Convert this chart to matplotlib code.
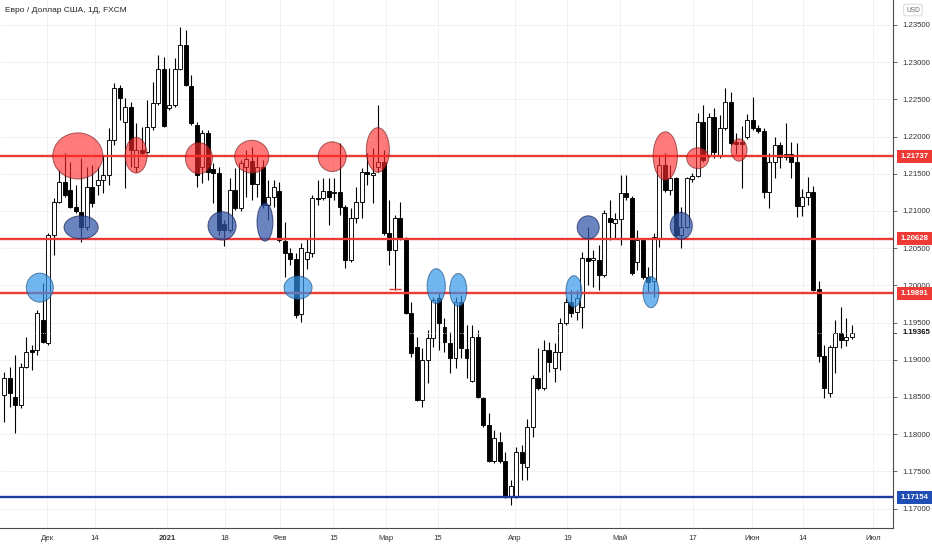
import matplotlib
matplotlib.use("Agg")
import matplotlib.pyplot as plt
import matplotlib.transforms as mtrans
from matplotlib.patches import Ellipse, Rectangle
import numpy as np

plt.rcParams['font.family'] = ['Liberation Sans', 'DejaVu Sans']

# ---------------- data (EUR/USD daily) ----------------
opens = [1.1853,1.1875,1.1850,1.1839,1.1890,1.1913,1.1913,1.1953,1.1923,1.2068,
         1.2112,1.2139,1.2128,1.2105,1.2099,1.2078,1.2132,1.2135,1.2142,1.2148,
         1.2195,1.2265,1.2220,1.2240,1.2159,1.2182,1.2179,1.2213,1.2245,1.2291,
         1.2238,1.2242,1.2291,1.2323,1.2268,1.2216,1.2159,1.2205,1.2156,1.2151,
         1.2083,1.2074,1.2128,1.2104,1.2159,1.2167,1.2136,1.2159,1.2108,1.2119,
         1.2127,1.2060,1.2043,1.2035,1.1962,1.2035,1.2043,1.2117,1.2117,1.2127,
         1.2124,1.2126,1.2105,1.2034,1.2091,1.2112,1.2152,1.2148,1.2159,1.2166,
         1.2070,1.2048,1.2091,1.2064,1.1963,1.1917,1.1846,1.1900,1.1929,1.1983,
         1.1944,1.1923,1.1902,1.1978,1.1914,1.1871,1.1931,1.1849,1.1812,1.1764,
         1.1789,1.1764,1.1716,1.1716,1.1776,1.1756,1.1809,1.1876,1.1862,1.1913,
         1.1889,1.1910,1.1949,1.1978,1.1964,1.1971,1.2037,1.2034,1.2034,1.2014,
         1.2091,1.2084,1.2089,1.2124,1.2117,1.2031,1.2061,1.2011,1.2006,1.2064,
         1.2162,1.2128,1.2144,1.2068,1.2078,1.2143,1.2147,1.2220,1.2175,1.2226,
         1.2174,1.2212,1.2247,1.2193,1.2193,1.2199,1.2222,1.2212,1.2207,1.2126,
         1.2166,1.2189,1.2173,1.2177,1.2166,1.2107,1.2119,1.2126,1.1995,1.1905,
         1.1855,1.1917,1.1936,1.1927,1.1931]
highs = [1.1884,1.1890,1.1906,1.1896,1.1931,1.1920,1.1967,1.2003,1.2070,1.2117,
         1.2155,1.2178,1.2166,1.2135,1.2171,1.2159,1.2162,1.2159,1.2175,1.2212,
         1.2272,1.2269,1.2252,1.2247,1.2218,1.2213,1.2249,1.2273,1.2310,1.2307,
         1.2292,1.2306,1.2347,1.2343,1.2283,1.2220,1.2209,1.2209,1.2165,1.2159,
         1.2088,1.2144,1.2158,1.2169,1.2182,1.2186,1.2175,1.2169,1.2142,1.2142,
         1.2139,1.2085,1.2050,1.2043,1.2057,1.2064,1.2122,1.2142,1.2144,1.2144,
         1.2144,1.2191,1.2108,1.2104,1.2132,1.2158,1.2178,1.2185,1.2242,1.2182,
         1.2115,1.2095,1.2112,1.2065,1.1978,1.1931,1.1916,1.1940,1.1984,1.1990,
         1.1956,1.1937,1.1984,1.1987,1.1947,1.1947,1.1940,1.1850,1.1828,1.1806,
         1.1803,1.1776,1.1738,1.1783,1.1785,1.1820,1.1880,1.1916,1.1927,1.1924,
         1.1923,1.1956,1.1983,1.1994,1.1994,1.2045,1.2078,1.2048,1.2054,1.2101,
         1.2115,1.2097,1.2148,1.2148,1.2120,1.2074,1.2064,1.2025,1.2070,1.2175,
         1.2178,1.2162,1.2146,1.2105,1.2146,1.2151,1.2232,1.2242,1.2232,1.2238,
         1.2229,1.2265,1.2260,1.2205,1.2214,1.2230,1.2253,1.2216,1.2212,1.2178,
         1.2199,1.2193,1.2218,1.2193,1.2191,1.2130,1.2146,1.2134,1.2006,1.1920,
         1.1920,1.1953,1.1971,1.1956,1.1947]
lows = [1.1816,1.1836,1.1802,1.1835,1.1889,1.1886,1.1906,1.1923,1.1920,1.2041,
        1.2111,1.2119,1.2104,1.2097,1.2058,1.2074,1.2105,1.2122,1.2124,1.2135,
        1.2189,1.2222,1.2131,1.2159,1.2152,1.2175,1.2178,1.2209,1.2242,1.2213,
        1.2236,1.2240,1.2290,1.2268,1.2216,1.2132,1.2138,1.2142,1.2111,1.2068,
        1.2053,1.2072,1.2101,1.2100,1.2119,1.2115,1.2119,1.2104,1.2088,1.2105,
        1.2058,1.2011,1.2027,1.1956,1.1951,1.2022,1.2038,1.2108,1.2115,1.2081,
        1.2115,1.2095,1.2023,1.2031,1.2084,1.2091,1.2135,1.2111,1.2152,1.2068,
        1.2027,1.1994,1.2061,1.1962,1.1904,1.1844,1.1836,1.1869,1.1917,1.1913,
        1.1910,1.1882,1.1889,1.1902,1.1876,1.1870,1.1849,1.1809,1.1763,1.1761,
        1.1761,1.1714,1.1705,1.1714,1.1738,1.1738,1.1796,1.1860,1.1859,1.1884,
        1.1870,1.1886,1.1947,1.1957,1.1953,1.1943,1.2001,1.1998,1.1994,1.2011,
        1.2061,1.2064,1.2054,1.2115,1.2014,1.2021,1.2009,1.1990,1.1984,1.2052,
        1.2126,1.2122,1.2065,1.2050,1.2077,1.2139,1.2146,1.2166,1.2173,1.2171,
        1.2171,1.2209,1.2189,1.2177,1.2131,1.2197,1.2209,1.2205,1.2117,1.2104,
        1.2144,1.2158,1.2169,1.2144,1.2092,1.2093,1.2108,1.1992,1.1897,1.1849,
        1.1850,1.1882,1.1916,1.1918,1.1928]
closes = [1.1875,1.1855,1.1839,1.1890,1.1910,1.1910,1.1963,1.1924,1.2068,1.2112,
          1.2139,1.2122,1.2105,1.2100,1.2078,1.2132,1.2111,1.2142,1.2148,1.2195,
          1.2265,1.2252,1.2240,1.2182,1.2182,1.2178,1.2213,1.2245,1.2291,1.2214,
          1.2242,1.2291,1.2323,1.2269,1.2218,1.2148,1.2205,1.2152,1.2151,1.2074,
          1.2074,1.2128,1.2104,1.2165,1.2170,1.2136,1.2159,1.2108,1.2119,1.2132,
          1.2061,1.2043,1.2035,1.1960,1.2050,1.2045,1.2117,1.2116,1.2127,1.2119,
          1.2126,1.2105,1.2034,1.2091,1.2112,1.2152,1.2150,1.2151,1.2166,1.2070,
          1.2048,1.2091,1.2064,1.1963,1.1909,1.1846,1.1900,1.1929,1.1980,1.1949,
          1.1924,1.1902,1.1978,1.1916,1.1902,1.1931,1.1850,1.1812,1.1764,1.1795,
          1.1764,1.1717,1.1730,1.1776,1.1761,1.1809,1.1876,1.1862,1.1913,1.1897,
          1.1910,1.1949,1.1978,1.1963,1.1983,1.2037,1.2033,1.2037,1.2014,1.2097,
          1.2085,1.2089,1.2124,1.2119,1.2017,1.2061,1.2011,1.2004,1.2065,1.2162,
          1.2128,1.2144,1.2068,1.2078,1.2144,1.2147,1.2220,1.2169,1.2226,1.2179,
          1.2212,1.2247,1.2191,1.2190,1.2190,1.2222,1.2212,1.2207,1.2126,1.2166,
          1.2189,1.2173,1.2177,1.2166,1.2107,1.2119,1.2126,1.1994,1.1905,1.1862,
          1.1917,1.1936,1.1927,1.1931,1.1936]

date_labels = ["Дек", "14", "2021", "18", "Фев", "15", "Мар", "15", "Апр",
               "19", "Май", "17", "Июн", "14", "Июл"]
date_pos = [7.8, 16.5, 29.6, 40.1, 50.1, 59.8, 69.4, 78.8, 92.8,
            102.3, 111.9, 125.1, 135.9, 145.1, 157.8]
price_ticks = [1.170, 1.175, 1.180, 1.185, 1.190, 1.195, 1.200,
               1.205, 1.210, 1.215, 1.220, 1.225, 1.230, 1.235]

red_levels = [1.21737, 1.20628, 1.19891]
blue_level = 1.17154
last_price = 1.19365

# ellipses: (bar index, price, width in bars, height in price)
red_marks = [(13.4, 1.2174, 9.1, 0.0062), (24.0, 1.2175, 4.0, 0.0048),
             (35.4, 1.2171, 4.9, 0.0042), (45.0, 1.2173, 6.2, 0.0044),
             (59.6, 1.2173, 5.1, 0.0040), (67.9, 1.2182, 4.2, 0.0060),
             (120.1, 1.2174, 4.4, 0.0065), (126.0, 1.2171, 4.0, 0.0028),
             (133.5, 1.2182, 2.9, 0.0030)]
dark_marks = [(14.0, 1.2078, 6.2, 0.0031), (39.6, 1.2080, 5.1, 0.0038),
              (47.4, 1.2085, 2.9, 0.0051), (106.1, 1.2078, 4.0, 0.0031),
              (123.0, 1.2080, 4.0, 0.0036)]
light_marks = [(6.5, 1.1997, 4.9, 0.0039), (53.4, 1.1997, 5.1, 0.0031),
               (78.5, 1.1999, 3.3, 0.0047), (82.5, 1.1994, 3.1, 0.0044),
               (103.5, 1.1992, 2.9, 0.0042), (117.5, 1.1991, 2.9, 0.0042)]

# ---------------- figure ----------------
W, H = 932, 550
fig = plt.figure(figsize=(W / 100, H / 100), dpi=100)
fig.patch.set_facecolor('white')
ax = fig.add_axes([0, 22 / H, 893 / W, 528 / H])
ax.set_facecolor('white')

o = np.array(opens); h = np.array(highs); l = np.array(lows); c = np.array(closes)
idx = np.arange(len(o))
up = c >= o

ax.vlines(idx, l, h, color='#000000', lw=0.8, zorder=2)
body_h = np.maximum(np.abs(c - o), 0.00004)
ax.bar(idx, body_h, bottom=np.minimum(o, c), width=0.72,
       color=np.where(up, 'white', 'black'), edgecolor='black',
       linewidth=0.65, zorder=2.2)

# levels
red_col = '#ee3a35'
blue_col = '#1c3c9e'
for lv in red_levels:
    ax.axhline(lv, color=red_col, lw=1.7, zorder=3)
ax.axhline(blue_level, color=blue_col, lw=1.7, zorder=3)
ax.hlines(1.1995, 69.9, 72.1, color=red_col, lw=1.0, zorder=3)
ax.axhline(last_price, color='white', lw=0.6, ls=(0, (1, 2)), zorder=2.5)

for (cx, cy, ew, eh) in red_marks:
    ax.add_patch(Ellipse((cx, cy), ew, eh, facecolor='#ff2828', alpha=0.62,
                         edgecolor='#6b1515', lw=0.7, zorder=4))
for (cx, cy, ew, eh) in dark_marks:
    ax.add_patch(Ellipse((cx, cy), ew, eh, facecolor='#3055a8', alpha=0.72,
                         edgecolor='#14235a', lw=0.7, zorder=4))
for (cx, cy, ew, eh) in light_marks:
    ax.add_patch(Ellipse((cx, cy), ew, eh, facecolor='#3094e9', alpha=0.68,
                         edgecolor='#1d4f80', lw=0.7, zorder=4))

# axes limits
ax.set_xlim(-0.73, 161.46)
ax.set_ylim(1.16739, 1.23836)

# grid & ticks
ax.set_xticks(date_pos)
ax.set_xticklabels(date_labels)
for lab in ax.get_xticklabels():
    if lab.get_text() == '2021':
        lab.set_fontweight('bold')
ax.set_yticks(price_ticks)
ax.set_yticklabels([f"{p:.5f}" for p in price_ticks])
ax.yaxis.tick_right()
ax.tick_params(axis='y', length=3, width=0.6, color='#555555', pad=4,
               labelsize=5.6, labelcolor='#333333')
ax.tick_params(axis='x', length=0, pad=5, labelsize=5.6, labelcolor='#333333')
ax.grid(True, color='#eceff4', lw=0.6, zorder=0)
ax.set_axisbelow(True)
for s in ['left', 'top']:
    ax.spines[s].set_visible(False)
for s in ['right', 'bottom']:
    ax.spines[s].set_color('#4a4a4a')
    ax.spines[s].set_linewidth(0.8)

# price labels on the axis
btrans = mtrans.blended_transform_factory(ax.transAxes, ax.transData)
x0 = 897 / 893
x1 = 932 / 893
lab_h = 0.00178
for lv, col in [(red_levels[0], red_col), (red_levels[1], red_col),
                (red_levels[2], red_col), (blue_level, '#1f4fb5')]:
    ax.add_patch(Rectangle((x0, lv - lab_h / 2), x1 - x0, lab_h,
                           transform=btrans, facecolor=col, edgecolor='none',
                           clip_on=False, zorder=6))
    ax.text((x0 + x1) / 2, lv, f"{lv:.5f}", transform=btrans, ha='center',
            va='center', fontsize=5.6, color='white', fontweight='bold',
            clip_on=False, zorder=7)
ax.text(903 / 893, last_price, f"{last_price:.5f}", transform=btrans,
        ha='left', va='center', fontsize=5.6, color='#111111',
        fontweight='bold', clip_on=False, zorder=7)
ax.plot([1.0, 1.0 + 3 / 893], [last_price, last_price], transform=btrans,
        color='#333333', lw=0.6, clip_on=False)

# title and currency badge
fig.text(5 / W, 1 - 11 / H, "Евро / Доллар США, 1Д, FXCM", fontsize=6.0,
         color='#222222', ha='left', va='center')
fig.text(913 / W, 1 - 10 / H, "USD", fontsize=4.8, color='#666666',
         ha='center', va='center',
         bbox=dict(boxstyle='round,pad=0.35,rounding_size=0.3',
                   fc='white', ec='#d0d3da', lw=0.6))

fig.savefig('out.png', dpi=100)
